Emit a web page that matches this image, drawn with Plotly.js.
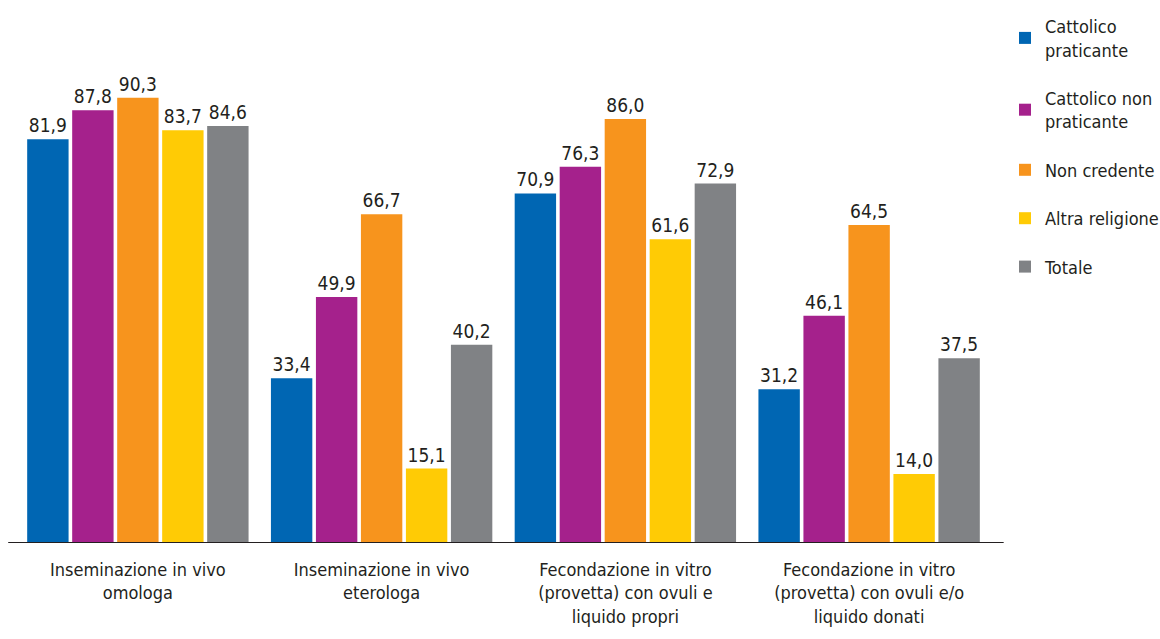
<!DOCTYPE html>
<html><head><meta charset="utf-8">
<script src="https://cdn.plot.ly/plotly-3.0.1.min.js"></script>
<style>body{margin:0;background:#fff}#c{width:1160px;height:639px}</style>
</head><body><div id="c"></div>
<script>
const categories = ["Inseminazione in vivo<br>omologa","Inseminazione in vivo<br>eterologa","Fecondazione in vitro<br>(provetta) con ovuli e<br>liquido propri","Fecondazione in vitro<br>(provetta) con ovuli e/o<br>liquido donati"];
const seriesNames = ["Cattolico<br>praticante","Cattolico non<br>praticante","Non credente","Altra religione","Totale"];
const cattolicoPraticante = [81.9, 33.4, 70.9, 31.2];
const cattolicoNonPraticante = [87.8, 49.9, 76.3, 46.1];
const nonCredente = [90.3, 66.7, 86.0, 64.5];
const altraReligione = [83.7, 15.1, 61.6, 14.0];
const totale = [84.6, 40.2, 72.9, 37.5];
const colors = ["#0066b3","#a5218c","#f7941d","#ffcb05","#808285"];
const values = [cattolicoPraticante, cattolicoNonPraticante, nonCredente, altraReligione, totale];
const font = "'Liberation Sans Narrow', 'DejaVu Sans Condensed', sans-serif";
const traces = values.map((v,i)=>({
  type:'bar', x:categories, y:v, name:seriesNames[i], legendgroup:'g'+i,
  marker:{color:colors[i]},
  text:v.map(n=>n.toFixed(1).replace('.',',')),
  textposition:'outside', cliponaxis:false,
  textfont:{size:19,color:'#231f20',family:font}
}));
const layout = {
  width:1160,height:639,
  margin:{l:16,r:169,t:50,b:96},
  barmode:'group', bargap:0.077, bargroupgap:0.08,
  paper_bgcolor:'#fff', plot_bgcolor:'#fff',
  font:{family:font,color:'#231f20',size:18},
  xaxis:{showline:false,ticks:'',ticklabelstandoff:14,tickfont:{size:18,family:font,color:'#231f20'},fixedrange:true},
  yaxis:{range:[0,100],visible:false,fixedrange:true},
  showlegend:true,
  legend:{xref:'container',yref:'container',x:1005/1160,y:1-8/639,xanchor:'left',yanchor:'top',
    font:{size:18,family:font,color:'#231f20'},tracegroupgap:22,itemwidth:30,traceorder:'grouped'},
  shapes:[{type:'line',xref:'paper',yref:'y',x0:-0.008,x1:1.013,y0:0,y1:0,line:{color:'#231f20',width:2}}]
};
Plotly.newPlot('c',traces,layout,{displayModeBar:false,staticPlot:true});
</script></body></html>
